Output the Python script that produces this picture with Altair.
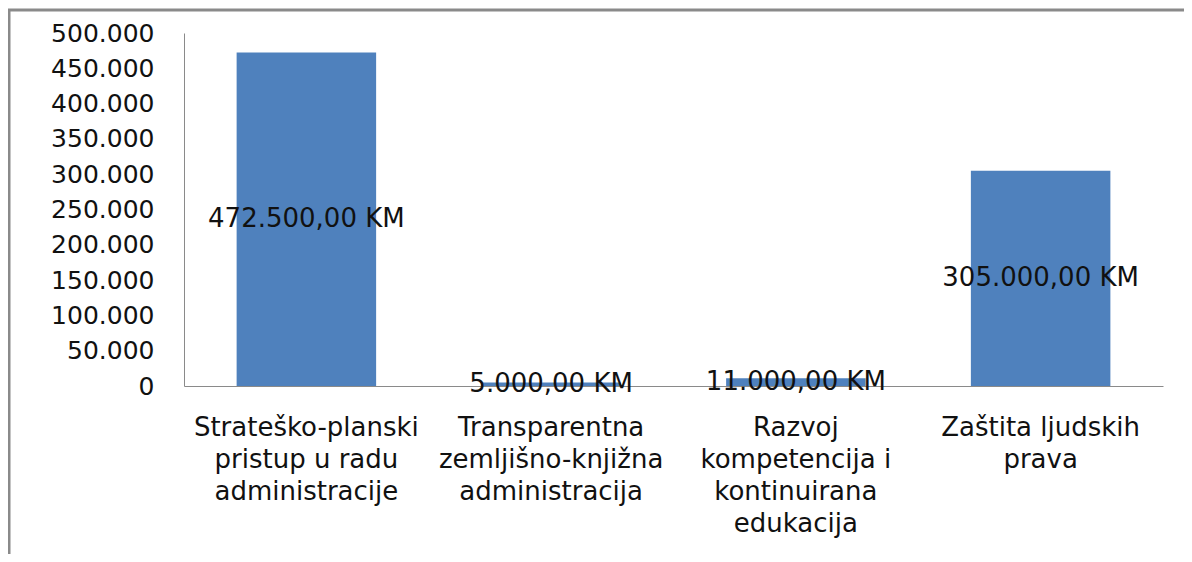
import altair as alt
import pandas as pd

categories = [
    "Strateško-planski|pristup u radu|administracije",
    "Transparentna|zemljišno-knjižna|administracija",
    "Razvoj|kompetencija i|kontinuirana|edukacija",
    "Zaštita ljudskih|prava",
]
amounts = [472500, 5000, 11000, 305000]
value_labels = ["472.500,00 KM", "5.000,00 KM", "11.000,00  KM", "305.000,00 KM"]
y_ticks = [0, 50000, 100000, 150000, 200000, 250000, 300000, 350000, 400000, 450000, 500000]

FONT = "DejaVu Sans"

df = pd.DataFrame({"cat": categories, "amount": amounts, "label": value_labels})

x_axis = alt.Axis(
    title=None,
    labelExpr="split(datum.label, '|')",
    labelAngle=0,
    ticks=False,
    labelPadding=28,
    labelFontSize=26,
    labelFont=FONT,
    labelColor="#111111",
    labelLineHeight=32,
    labelLimit=0,
    labelOverlap=False,
    domainColor="#8a8a8a",
    domainWidth=1,
)
y_axis = alt.Axis(
    values=y_ticks,
    title=None,
    grid=False,
    ticks=False,
    labelPadding=30,
    labelFontSize=25,
    labelFont=FONT,
    labelColor="#111111",
    labelOverlap=False,
    labelFlush=False,
    labelExpr="datum.value == 0 ? '0' : format(datum.value / 1000, 'd') + '.000'",
    domainColor="#8a8a8a",
    domainWidth=1,
)
x_scale = alt.Scale(paddingInner=0.43, paddingOuter=0.215)
y_scale = alt.Scale(domain=[0, 500000], nice=False)

base = alt.Chart(df)
bars = base.mark_bar(color="#4f81bd").encode(
    x=alt.X("cat:N", sort=categories, scale=x_scale, axis=x_axis),
    y=alt.Y("amount:Q", scale=y_scale, axis=y_axis),
)
texts = base.transform_calculate(mid="datum.amount / 2").mark_text(
    font=FONT, fontSize=26, color="#111111", align="center", baseline="middle"
).encode(
    x=alt.X("cat:N", sort=categories, scale=x_scale, axis=x_axis),
    y=alt.Y("mid:Q", scale=y_scale, axis=y_axis),
    text="label:N",
)

frame_df = pd.DataFrame({"k": [0]})
frame_left = alt.Chart(frame_df).mark_rule(color="#8a8a8a", strokeWidth=3).encode(
    x=alt.value(-175), y=alt.value(-23), y2=alt.value(521)
)
frame_top = alt.Chart(frame_df).mark_rule(color="#8a8a8a", strokeWidth=3).encode(
    x=alt.value(-176), x2=alt.value(1000), y=alt.value(-23)
)

chart = (
    alt.layer(bars, texts, frame_left, frame_top)
    .properties(
        width=979,
        height=353,
        padding={"left": 176, "top": 25, "right": 21, "bottom": 168},
        autosize="none",
        background="white",
    )
    .configure_view(stroke=None)
    .configure_axis(labelOverlap=False)
)

chart.save("out.html", embed_options={"renderer": "svg", "actions": False})
